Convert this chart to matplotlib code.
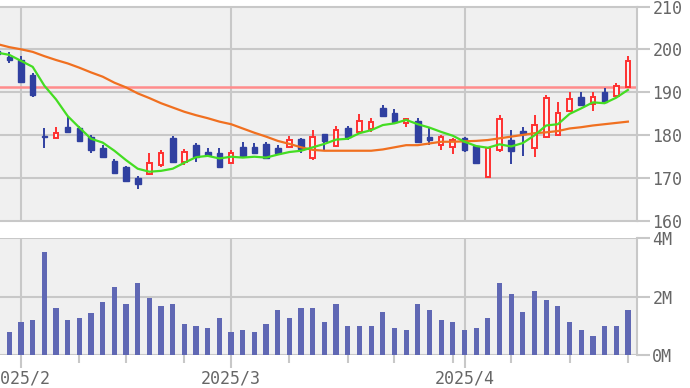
import numpy as np
import pandas as pd
import matplotlib
matplotlib.use("Agg")
import matplotlib.pyplot as plt
from matplotlib.ticker import FixedLocator, FixedFormatter, NullLocator

# ---------------- data ----------------
dates = [
    "2025-01-30", "2025-01-31",
    "2025-02-03", "2025-02-04", "2025-02-05", "2025-02-06", "2025-02-07",
    "2025-02-10", "2025-02-12", "2025-02-13", "2025-02-14",
    "2025-02-17", "2025-02-18", "2025-02-19", "2025-02-20", "2025-02-21",
    "2025-02-25", "2025-02-26", "2025-02-27", "2025-02-28",
    "2025-03-03", "2025-03-04", "2025-03-05", "2025-03-06", "2025-03-07",
    "2025-03-10", "2025-03-11", "2025-03-12", "2025-03-13", "2025-03-14",
    "2025-03-17", "2025-03-18", "2025-03-19", "2025-03-21",
    "2025-03-24", "2025-03-25", "2025-03-26", "2025-03-27", "2025-03-28",
    "2025-03-31",
    "2025-04-01", "2025-04-02", "2025-04-03", "2025-04-04",
    "2025-04-07", "2025-04-08", "2025-04-09", "2025-04-10", "2025-04-11",
    "2025-04-14", "2025-04-15", "2025-04-16", "2025-04-17", "2025-04-18",
    "2025-04-21",
]
opens = [199.6, 198.3, 197.6, 194.0, 179.8, 179.3, 181.8, 181.5, 179.6, 176.9,
         174.0, 172.4, 169.9, 170.9, 173.0, 179.2, 173.7, 177.6, 176.1, 175.8,
         173.4, 177.1, 177.2, 177.9, 176.9, 177.2, 179.0, 174.5, 180.2, 177.4,
         181.5, 180.7, 181.3, 186.2, 185.2, 182.7, 183.3, 179.6, 177.6, 177.1,
         179.2, 177.4, 170.2, 176.5, 178.9, 181.0, 176.9, 179.4, 180.0, 185.7,
         188.8, 187.2, 190.1, 189.1, 191.3]
highs = [199.9, 199.4, 198.4, 194.4, 181.5, 181.8, 184.1, 182.1, 180.0, 177.6,
         174.4, 172.7, 170.3, 175.7, 176.5, 179.7, 176.6, 178.0, 176.9, 176.9,
         176.5, 178.4, 178.2, 178.4, 177.6, 179.7, 179.2, 181.1, 180.3, 182.1,
         182.1, 184.9, 183.9, 187.0, 186.0, 183.9, 183.9, 181.5, 180.0, 179.2,
         179.6, 177.6, 177.2, 184.7, 181.1, 181.9, 184.7, 189.3, 187.8, 190.1,
         190.1, 190.1, 190.9, 192.1, 198.4]
lows = [198.5, 196.7, 192.2, 188.8, 176.9, 179.3, 180.6, 178.4, 175.7, 174.8,
        170.9, 169.1, 167.4, 170.6, 172.4, 173.7, 173.0, 173.7, 175.3, 172.6,
        173.4, 174.5, 175.7, 174.3, 175.8, 177.1, 175.7, 174.1, 176.3, 177.2,
        178.8, 180.4, 180.7, 184.3, 182.7, 181.8, 178.4, 177.6, 176.5, 175.5,
        176.1, 173.2, 170.1, 176.1, 173.3, 175.0, 174.9, 179.2, 179.7, 185.4,
        186.8, 185.7, 187.8, 188.9, 191.1]
closes = [198.8, 197.5, 192.4, 189.3, 179.4, 180.4, 180.6, 178.6, 176.5, 174.8,
          171.2, 169.3, 168.5, 173.4, 175.7, 173.7, 176.1, 174.9, 175.3, 172.6,
          175.8, 175.1, 175.7, 174.5, 175.8, 178.8, 176.6, 179.6, 178.6, 181.1,
          179.6, 183.3, 183.1, 184.4, 183.1, 183.6, 178.4, 178.8, 179.6, 178.8,
          176.5, 173.4, 176.9, 183.6, 176.3, 180.3, 182.3, 188.6, 185.0, 188.3,
          187.0, 188.9, 187.8, 191.4, 197.3]
ma_short = [199.2, 198.7, 197.3, 195.9, 191.5, 188.3, 184.4, 181.7, 179.1, 178.2,
            176.3, 174.1, 172.1, 171.4, 171.6, 172.1, 173.5, 174.8, 175.1, 174.5,
            174.9, 174.7, 174.9, 174.7, 175.4, 176.0, 176.3, 177.1, 177.9, 178.9,
            179.1, 180.4, 181.1, 182.3, 182.7, 183.5, 182.5, 181.7, 180.7, 179.8,
            178.4, 177.4, 177.0, 177.8, 177.3, 178.1, 179.9, 182.2, 182.5, 184.9,
            186.2, 187.6, 187.4, 188.7, 190.5]
ma_long = [201.2, 200.5, 200.0, 199.4, 198.4, 197.5, 196.7, 195.7, 194.6, 193.6,
           192.2, 191.1, 189.7, 188.6, 187.4, 186.4, 185.4, 184.6, 183.9, 183.1,
           182.5, 181.5, 180.5, 179.6, 178.6, 177.9, 177.1, 176.5, 176.3, 176.3,
           176.3, 176.3, 176.3, 176.6, 177.1, 177.6, 177.6, 178.0, 178.4, 178.4,
           178.5, 178.6, 178.8, 179.2, 179.6, 180.0, 180.4, 180.6, 180.9, 181.5,
           181.8, 182.2, 182.5, 182.8, 183.1]
volumes = [800000, 800000, 1140000, 1200000, 3540000, 1600000, 1200000, 1280000,
           1430000, 1810000, 2340000, 1740000, 2480000, 1940000, 1680000, 1740000,
           1070000, 1000000, 940000, 1280000, 800000, 860000, 800000, 1070000,
           1530000, 1280000, 1600000, 1600000, 1140000, 1740000, 1000000, 1000000,
           1000000, 1460000, 940000, 860000, 1740000, 1530000, 1200000, 1140000,
           860000, 940000, 1280000, 2480000, 2080000, 1460000, 2200000, 1870000,
           1680000, 1140000, 870000, 660000, 1000000, 1000000, 1530000]
ref_level = 191.3
price_ticks = [160, 170, 180, 190, 200, 210]
vol_ticks = [0, 2000000, 4000000]
vol_labels = ["0M", "2M", "4M"]

# ---------------- derived ----------------
dt = pd.to_datetime(pd.Series(dates))
x = np.arange(len(dates))
o = np.array(opens); h = np.array(highs); l = np.array(lows); c = np.array(closes)
up = c >= o

month_idx = [i for i in range(1, len(dt)) if dt[i].month != dt[i - 1].month]
month_lbl = [f"{dt[i].year}/{dt[i].month}" for i in month_idx]
week = dt.dt.isocalendar().week.values
week_idx = [i for i in range(1, len(dt)) if week[i] != week[i - 1] and i not in month_idx]

# ---------------- style ----------------
BG = "#f0f0f0"
GRID = "#c8c8c8"
TXT = "#666666"
BLUE = "#3040a0"
RED = "#ff3030"
VOLC = "#6068b4"
GREEN = "#44dd22"
ORANGE = "#f07020"
REF = "#ff8c8c"
FONT = "DejaVu Sans Mono"

W, H = 690, 388
fig = plt.figure(figsize=(W / 100, H / 100), dpi=100)
fig.patch.set_facecolor("white")

right = 637 / W
axp = fig.add_axes([0, 1 - 220.5 / H, right, (220.5 - 6.5) / H])
axv = fig.add_axes([0, 1 - 355 / H, right, (355 - 238.3) / H])

xlim = (0.2, 54.78)

for ax in (axp, axv):
    ax.set_facecolor(BG)
    ax.set_xlim(*xlim)
    for s in ("left", "top", "bottom"):
        ax.spines[s].set_visible(False)
    ax.spines["right"].set_color(GRID)
    ax.spines["right"].set_linewidth(1.5)
    ax.yaxis.tick_right()
    ax.tick_params(axis="y", which="both", length=9, width=1.5, color=GRID,
                   labelcolor=TXT, labelsize=12, pad=2)
    for lab in ax.get_yticklabels():
        lab.set_fontfamily(FONT)
    for i in month_idx:
        ax.axvline(x[i], color=GRID, lw=1.5, zorder=1)

# price panel
axp.set_ylim(160, 210)
axp.yaxis.set_major_locator(FixedLocator(price_ticks))
axp.yaxis.set_major_formatter(FixedFormatter([str(t) for t in price_ticks]))
for t in price_ticks:
    axp.axhline(t, color=GRID, lw=1.5, zorder=1, clip_on=False)
axp.tick_params(axis="x", which="both", bottom=False, labelbottom=False)

axp.axhline(ref_level, color=REF, lw=1.8, zorder=2)

body_w = 0.48
wick_col = np.where(up, RED, BLUE)
axp.vlines(x, l, h, colors=wick_col, lw=1.4, zorder=3)
bottoms = np.minimum(o, c)
heights = np.maximum(np.abs(c - o), 0.25)
axp.bar(x[~up], heights[~up], bottom=bottoms[~up], width=body_w,
        color=BLUE, edgecolor=BLUE, lw=1.0, zorder=4)
axp.bar(x[up], heights[up], bottom=bottoms[up], width=body_w - 0.08,
        color="#fbf3f3", edgecolor=RED, lw=1.4, zorder=4)

axp.plot(x, ma_long, color=ORANGE, lw=1.6, zorder=5)
axp.plot(x, ma_short, color=GREEN, lw=1.6, zorder=6)

for lab in axp.get_yticklabels():
    lab.set_fontfamily(FONT)

# volume panel
axv.set_ylim(0, 4000000)
axv.yaxis.set_major_locator(FixedLocator(vol_ticks))
axv.yaxis.set_major_formatter(FixedFormatter(vol_labels))
for t in vol_ticks:
    axv.axhline(t, color=GRID, lw=1.5, zorder=1)
axv.bar(x, volumes, width=0.45, color=VOLC, zorder=3)

axv.xaxis.set_major_locator(FixedLocator([x[i] for i in month_idx]))
axv.xaxis.set_major_formatter(FixedFormatter(month_lbl))
axv.xaxis.set_minor_locator(FixedLocator([x[i] for i in week_idx]))
axv.tick_params(axis="x", which="major", length=9.5, width=1.5, color=GRID,
                labelcolor=TXT, labelsize=12, pad=1)
axv.tick_params(axis="x", which="minor", length=5.5, width=1.5, color=GRID)
for lab in axv.get_xticklabels() + axv.get_yticklabels():
    lab.set_fontfamily(FONT)

fig.savefig("out.png", dpi=100, facecolor="white")
